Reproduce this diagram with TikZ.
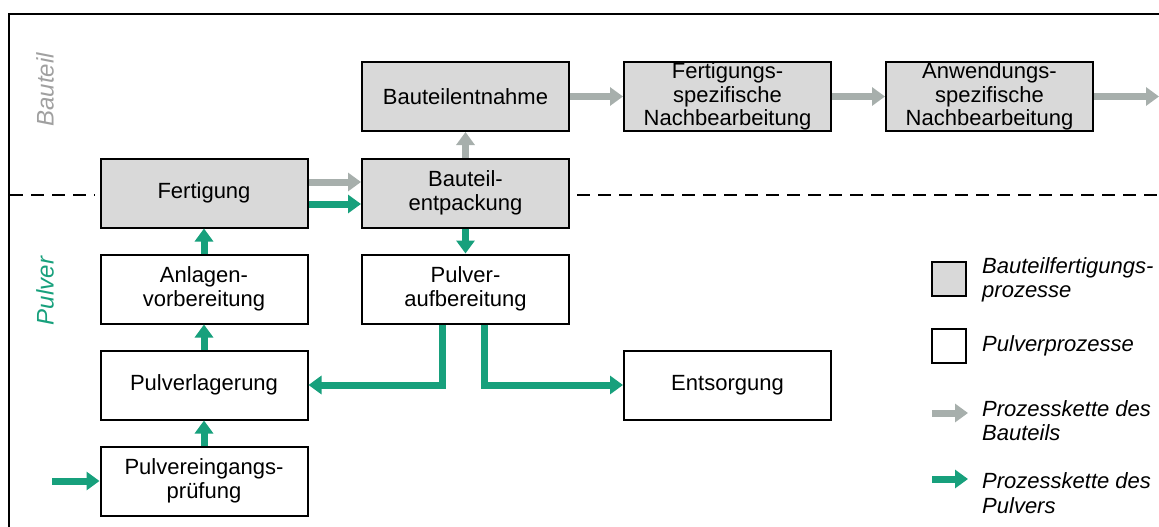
\documentclass[tikz,border=0pt]{standalone}
\usepackage{fontspec}
\setmainfont{Liberation Sans}
\usetikzlibrary{arrows.meta}
\definecolor{arrgrey}{HTML}{A7AFAC}
\definecolor{arrgreen}{HTML}{17A07C}
\definecolor{boxgrey}{HTML}{D9D9D9}
\definecolor{labgrey}{HTML}{A0A0A0}
\tikzset{
  procbox/.style={draw=black, line width=2pt, minimum width=207pt, minimum height=69pt,
    inner sep=0pt, align=center, font=\fontsize{22}{23.5}\selectfont},
  partbox/.style={procbox, fill=boxgrey},
  powderbox/.style={procbox, fill=white},
  garrow/.style={draw=arrgreen, line width=7pt, -{Triangle[length=13pt,width=18pt]}},
  grarrow/.style={draw=arrgrey, line width=7pt, -{Triangle[length=13pt,width=18pt]}},
  legtext/.style={anchor=west, align=left, inner sep=0pt, font=\fontsize{22}{24.5}\selectfont\itshape},
  sidelabel/.style={rotate=90, inner sep=0pt, font=\fontsize{24}{26}\selectfont\itshape},
  divider/.style={draw=black, line width=2.4pt, dash pattern=on 13pt off 8pt}
}
\begin{document}
\begin{tikzpicture}[x=1pt,y=-1pt]
\useasboundingbox (0,0) rectangle (1159,527);
% frame
\draw[line width=2pt] (9,527) -- (9,14) -- (1159,14);
% divider
\draw[divider] (10,195) -- (95,195);
\draw[divider] (577,195) -- (1159,195);
% side labels
\node[sidelabel, text=labgrey] (lbauteil) at (45,90) {Bauteil};
\node[sidelabel, text=arrgreen] (lpulver) at (45,291) {Pulver};
% boxes
\node[partbox] (bte) at (465.5,96.5) {Bauteilentnahme};
\node[partbox] (fsn) at (727.5,96.5) {Fertigungs-\\spezifische\\Nachbearbeitung};
\node[partbox] (asn) at (989.5,96.5) {Anwendungs-\\spezifische\\Nachbearbeitung};
\node[partbox] (fert) at (204,193) {Fertigung};
\node[partbox] (entp) at (465.5,193) {Bauteil-\\entpackung};
\node[powderbox] (anl) at (204,289) {Anlagen-\\vorbereitung};
\node[powderbox] (pa) at (465.5,289) {Pulver-\\aufbereitung};
\node[powderbox] (pl) at (204,385) {Pulverlagerung};
\node[powderbox] (ent) at (727.5,385) {Entsorgung};
\node[powderbox] (pe) at (204,481) {Pulvereingangs-\\prüfung};
% free ends
\coordinate (outr) at (1159,96.5);
\coordinate (inl) at (52,481);
% grey chain
\draw[grarrow] ([yshift=11pt]fert.east) -- ([yshift=11pt]entp.west);
\draw[grarrow] (entp.north) -- (bte.south);
\draw[grarrow] (bte.east) -- (fsn.west);
\draw[grarrow] (fsn.east) -- (asn.west);
\draw[grarrow] (asn.east) -- (outr);
% green chain
\draw[garrow] (inl) -- (pe.west);
\draw[garrow] (pe.north) -- (pl.south);
\draw[garrow] (pl.north) -- (anl.south);
\draw[garrow] (anl.north) -- (fert.south);
\draw[garrow] ([yshift=-11pt]fert.east) -- ([yshift=-11pt]entp.west);
\draw[garrow] (entp.south) -- (pa.north);
\draw[garrow] ([xshift=-23pt]pa.south) |- (pl.east);
\draw[garrow] ([xshift=19pt]pa.south) |- (ent.west);
% legend
\node[draw=black, line width=2pt, fill=boxgrey, minimum size=34pt, inner sep=0pt] (lgbox) at (949,278.5) {};
\node[draw=black, line width=2pt, fill=white, minimum size=34pt, inner sep=0pt] (lwbox) at (949,345.5) {};
\coordinate (lga) at (932,413);
\coordinate (lgb) at (968,413);
\coordinate (lna) at (932,479);
\coordinate (lnb) at (968,479);
\draw[grarrow] (lga) -- (lgb);
\draw[garrow] (lna) -- (lnb);
\node[legtext] (t1) at (982,280) {Bauteilfertigungs-\\prozesse};
\node[legtext] (t2) at (982,346) {Pulverprozesse};
\node[legtext] (t3) at (982,420.5) {Prozesskette des\\Bauteils};
\node[legtext] (t4) at (982,493) {Prozesskette des\\Pulvers};
\end{tikzpicture}
\end{document}
